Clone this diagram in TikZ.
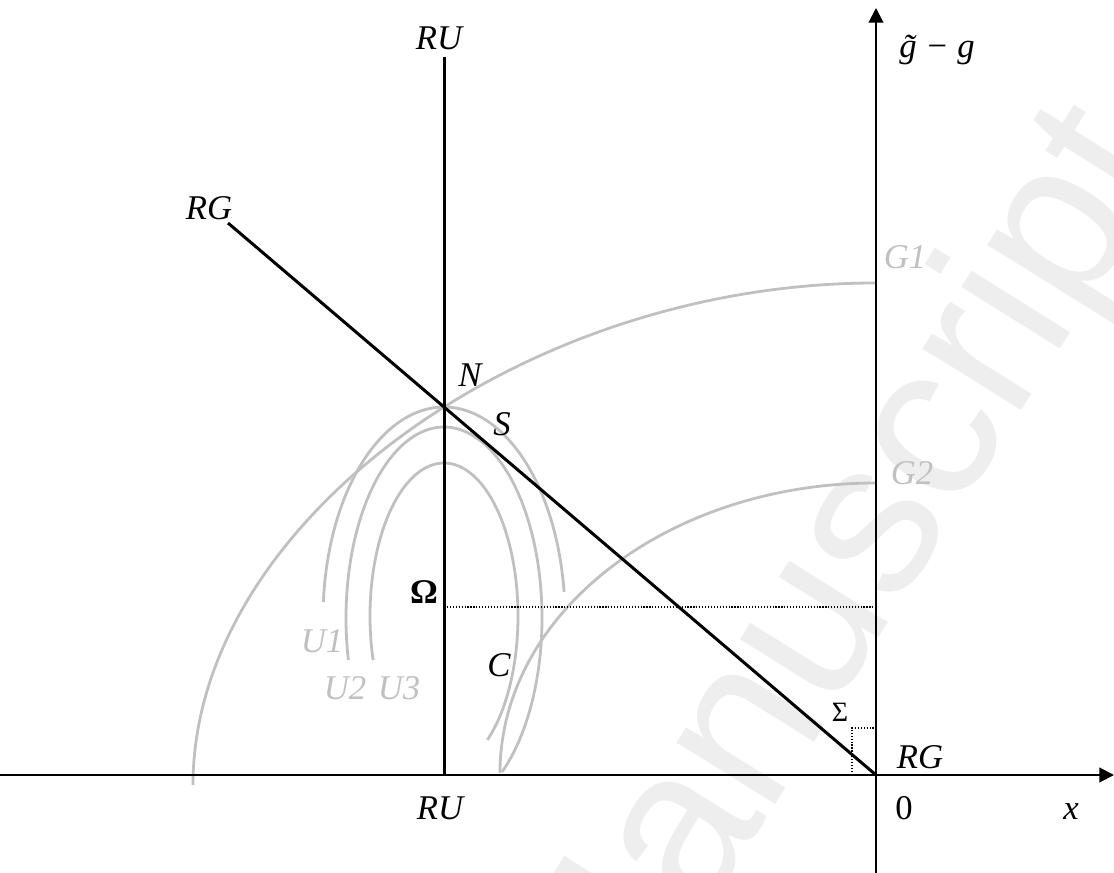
\documentclass[tikz,border=0pt]{standalone}
\usepackage{fontspec}
\setmainfont{Liberation Serif}
\newfontfamily\wmfont{Liberation Sans}
\usetikzlibrary{arrows.meta}
\definecolor{curvegray}{RGB}{192,192,192}
\definecolor{wmgray}{RGB}{238,238,238}
\begin{document}
\begin{tikzpicture}[x=0.75pt,y=-0.75pt,
  lbl/.style={inner sep=0pt, font=\fontsize{26}{30}\selectfont\itshape},
  glbl/.style={lbl, text=curvegray},
  axis/.style={line width=1.5pt, -{Triangle[length=11pt,width=11pt]}},
  heavy/.style={line width=2.25pt},
  gcurve/.style={curvegray, line width=2.1pt},
  dots/.style={line width=0.9pt, dash pattern=on 0.9pt off 1.3pt}]
\useasboundingbox (0,0) rectangle (1114,873);
% watermark
\node[rotate=58, text=wmgray, font=\wmfont\fontsize{165}{180}\selectfont, inner sep=0pt] (wm) at (842,590) {Manuscript};
% coordinates
\coordinate (O) at (876,775);
\coordinate (xl) at (0,775);
\coordinate (xr) at (1114,775);
\coordinate (yb) at (876,873);
\coordinate (yt) at (876,8);
\coordinate (RUtopend) at (444,57);
\coordinate (RUbotend) at (444,775);
\coordinate (RGtopend) at (228,223);
\coordinate (Om) at (444,607);
\coordinate (Omr) at (876,607);
\coordinate (s1) at (852,775);
\coordinate (s2) at (852,728);
\coordinate (s3) at (876,728);
\coordinate (G1a) at (876,283);
\coordinate (G1b) at (193,785);
\coordinate (G2a) at (876,483);
\coordinate (G2b) at (500,773);
% gray curves
\draw[gcurve] (G1a) .. controls (521,283) and (193,524) .. (G1b);
\draw[gcurve] (G2a) .. controls (668,483) and (500,613) .. (G2b);
\draw[gcurve] plot[domain=184.3:352.9, samples=90, smooth] ({444+121*cos(\x)},{618+211*sin(\x)});
\draw[gcurve] plot[domain=167.3:413.7, samples=90, smooth] ({444+98*cos(\x)},{618+191*sin(\x)});
\draw[gcurve] plot[domain=163.3:414.1, samples=90, smooth] ({444+74*cos(\x)},{616+153*sin(\x)});
% black lines
\draw[dots] (Om) -- (Omr);
\draw[dots] (s1) -- (s2) -- (s3);
\draw[heavy] (RUtopend) -- (RUbotend);
\draw[heavy] (RGtopend) -- (O);
\draw[axis] (xl) -- (xr);
\draw[axis] (yb) -- (yt);
% labels
\node[lbl] (RUt) at (439,38) {RU};
\node[lbl] (RUb) at (440,808) {RU};
\node[lbl] (RGt) at (209,208) {RG};
\node[lbl] (RGb) at (920,757) {RG};
\node[lbl] (N) at (470,375) {N};
\node[lbl] (S) at (502,424) {S};
\node[lbl] (C) at (499,665) {C};
\node[lbl, font=\fontsize{26}{30}\selectfont\bfseries] (Omega) at (424,592) {Ω};
\node[lbl, font=\fontsize{21}{24}\selectfont] (Sigma) at (840,712) {Σ};
\node[lbl, font=\fontsize{26}{30}\selectfont] (zero) at (904,808) {0};
\node[lbl] (xlab) at (1071,812) {x};
\node[lbl] (ylab) at (937,50) {\~{g} − g};
\node[glbl] (U1) at (322,641) {U1};
\node[glbl] (U2) at (345,688) {U2};
\node[glbl] (U3) at (399,688) {U3};
\node[glbl] (G1) at (905,257) {G1};
\node[glbl] (G2) at (912,473) {G2};
\end{tikzpicture}
\end{document}
